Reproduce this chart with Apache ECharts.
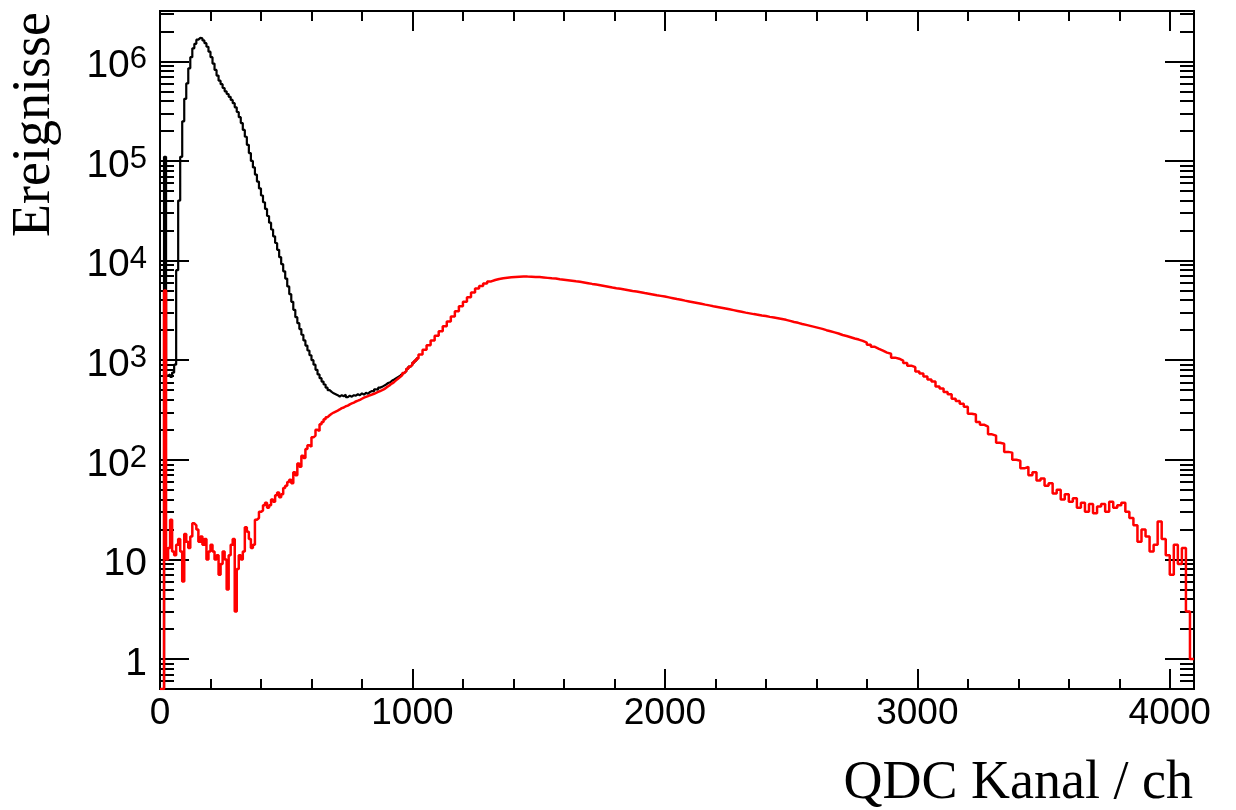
<!DOCTYPE html>
<html>
<head>
<meta charset="utf-8">
<script src="https://cdn.jsdelivr.net/npm/echarts@6/dist/echarts.min.js"></script>
<style>
  html, body { margin: 0; padding: 0; background: #fff; }
  #chart { width: 1236px; height: 810px; }
</style>
</head>
<body>
<div id="chart"></div>
<script>
// QDC spectrum, counts per bin
// channels 0..1024 in 8 ch bins, 1024..4096 in 16 ch bins
const fineWidth = 8
const coarseWidth = 16
const splitChannel = 1024
const lastChannel = 4096

// all events (black), 0..1024 ch; empty bins sit at the axis floor (0.5)
const blackFine = [
  0.5, 0.5, 110000, 700, 720, 680, 750, 900,
  8000, 40000, 110000, 250000, 420000, 600000, 850000, 1100000,
  1350000, 1500000, 1650000, 1720000, 1700000, 1620000, 1520000, 1400000,
  1250000, 1100000, 950000, 820000, 720000, 640000, 590000, 540000,
  500000, 470000, 440000, 410000, 380000, 345000, 310000, 275000,
  240000, 205000, 175000, 145000, 120000, 100000, 86000, 73000,
  62000, 53000, 45000, 38500, 33000, 28000, 24000, 20500,
  17500, 15000, 12800, 10800, 9200, 7800, 6600, 5500,
  4600, 3850, 3200, 2700, 2350, 2050, 1800, 1580,
  1400, 1250, 1120, 1000, 900, 800, 720, 660,
  610, 570, 530, 500, 480, 465, 455, 445,
  430, 445, 435, 450, 425, 440, 430, 445,
  440, 455, 445, 465, 450, 470, 460, 480,
  490, 485, 510, 505, 530, 540, 555, 570,
  590, 600, 625, 640, 660, 680, 700, 730,
  745, 780, 820, 860, 900, 945, 990, 1040
]

// selected events (red), 0..1024 ch
const redFine = [
  0.5, 0.5, 5000, 10, 13, 25, 12, 11,
  14, 16, 12, 6, 18, 15, 13, 17,
  23, 22, 20, 15, 17, 14, 16, 10,
  12, 14, 12, 10, 11, 7, 9, 12,
  10, 5, 11, 14, 16, 3, 8, 11,
  10, 12, 21, 19, 16, 13, 14, 25,
  26, 30, 31, 35, 37, 33, 35, 40,
  38, 44, 47, 42, 45, 52, 55, 60,
  63, 58, 75, 70, 92, 85, 110, 104,
  128, 140, 135, 168, 175, 200, 195, 228,
  240, 255, 268, 280, 290, 298, 305, 312,
  320, 330, 335, 345, 350, 360, 368, 375,
  385, 392, 400, 410, 420, 428, 436, 445,
  452, 460, 470, 480, 490, 500, 512, 530,
  548, 565, 585, 605, 630, 655, 680, 710,
  745, 780, 820, 860, 900, 945, 990, 1040
]

// selected events (red), 1024..4096 ch
const redCoarse = [
  1140, 1270, 1415, 1580, 1760, 1950, 2190, 2450,
  2750, 3090, 3470, 3850, 4270, 4790, 5250, 5560,
  5890, 6170, 6380, 6530, 6640, 6730, 6790, 6850,
  6890, 6920, 6900, 6890, 6850, 6820, 6760, 6700,
  6640, 6590, 6500, 6430, 6350, 6270, 6190, 6120,
  6030, 5930, 5830, 5740, 5650, 5560, 5470, 5370,
  5280, 5200, 5120, 5040, 4950, 4880, 4800, 4720,
  4650, 4570, 4490, 4420, 4350, 4270, 4190, 4110,
  4040, 3960, 3890, 3820, 3750, 3680, 3610, 3550,
  3480, 3420, 3360, 3300, 3240, 3180, 3120, 3060,
  3000, 2950, 2900, 2860, 2810, 2770, 2720, 2680,
  2640, 2590, 2540, 2480, 2420, 2370, 2310, 2260,
  2210, 2160, 2110, 2060, 2000, 1950, 1900, 1850,
  1790, 1750, 1700, 1650, 1610, 1560, 1500, 1430,
  1360, 1300, 1245, 1190, 1160, 1060, 1035, 990,
  935, 880, 850, 770, 735, 685, 640, 610,
  545, 520, 480, 455, 410, 390, 365, 340,
  290, 285, 240, 225, 215, 180, 175, 148,
  145, 120, 118, 100, 98, 82, 85, 70,
  75, 62, 65, 55, 58, 46, 50, 40,
  45, 38, 41, 33, 37, 30, 36, 29,
  34, 36, 30, 38, 33, 35, 37, 30,
  26, 22, 15, 20, 17, 12, 14, 24,
  16, 11, 7, 14, 9, 13, 3, 1
]

// axis ranges and tick positions
const yMin = 0.5
const yMax = 3.2e6
const yDecades = [0, 1, 2, 3, 4, 5, 6]
const xMajorStep = 1000
const xMinorStep = 200

function histPoints(start, width, values) {
  return values.map((v, i) => [start + i * width, v])
}

let redData = histPoints(0, fineWidth, redFine).concat(histPoints(splitChannel, coarseWidth, redCoarse))
redData.push([lastChannel, redCoarse[redCoarse.length - 1]])
let blackData = histPoints(0, fineWidth, blackFine)
blackData.push([splitChannel, blackFine[blackFine.length - 1]])

const logMin = Math.log10(yMin)
const logMax = Math.log10(yMax)
let yMinor = []
for (let d = -1; d <= 6; d++) {
  for (let k = 2; k <= 9; k++) {
    let v = Math.log10(k) + d
    if (v > logMin && v < logMax) yMinor.push(v)
  }
}

const tickColor = '#000'
const labelFont = 'Liberation Sans'

function xAxisDef(position, interval, len, labels) {
  return {
    type: 'value', position: position, min: 0, max: lastChannel, interval: interval,
    axisLine: { show: false, onZero: false },
    splitLine: { show: false },
    axisTick: { show: true, inside: true, length: len, lineStyle: { color: tickColor, width: 2 } },
    axisLabel: labels ? {
      show: true, margin: 6, color: '#000', fontFamily: labelFont, fontSize: 37,
      showMaxLabel: false,
      formatter: function (v) { return String(v) }
    } : { show: false }
  }
}

function yDecoAxis(position, values, len, labels) {
  return {
    type: 'value', position: position, min: logMin, max: logMax,
    axisLine: { show: false, onZero: false },
    splitLine: { show: false },
    axisTick: { show: true, inside: true, length: len, customValues: values, lineStyle: { color: tickColor, width: 2 } },
    axisLabel: labels ? {
      show: true, margin: 13, customValues: values, padding: [10, 0, 0, 0],
      formatter: function (v) {
        let d = Math.round(v)
        if (d === 0) return '{b|1}'
        if (d === 1) return '{b|10}'
        return '{b|10}{s|' + d + '}'
      },
      rich: {
        b: { fontFamily: labelFont, fontSize: 39, color: '#000', lineHeight: 44 },
        s: { fontFamily: labelFont, fontSize: 31, color: '#000', lineHeight: 30, verticalAlign: 'top' }
      }
    } : { show: false }
  }
}

let myChart = echarts.init(document.getElementById('chart'))
myChart.setOption({
  animation: false,
  backgroundColor: '#fff',
  grid: {
    left: 160, right: 42, top: 11, bottom: 121,
    show: true, borderColor: '#000', borderWidth: 2, backgroundColor: 'transparent'
  },
  xAxis: [
    xAxisDef('bottom', xMajorStep, 20, true),
    xAxisDef('bottom', xMinorStep, 10, false),
    xAxisDef('top', xMajorStep, 20, false),
    xAxisDef('top', xMinorStep, 10, false)
  ],
  yAxis: [
    { type: 'log', logBase: 10, min: yMin, max: yMax, show: false },
    yDecoAxis('left', yDecades, 29, true),
    yDecoAxis('left', yMinor, 14, false),
    yDecoAxis('right', yDecades, 29, false),
    yDecoAxis('right', yMinor, 14, false)
  ],
  graphic: [
    {
      type: 'text', x: 8, y: 12, rotation: Math.PI / 2,
      style: {
        text: 'Ereignisse', font: '54px "Liberation Serif"', fill: '#000',
        align: 'right', verticalAlign: 'top', textAlign: 'right', textVerticalAlign: 'top'
      }
    },
    {
      type: 'text', x: 1193, y: 757,
      style: {
        text: 'QDC Kanal / ch', font: '54px "Liberation Serif"', fill: '#000',
        align: 'right', verticalAlign: 'top', textAlign: 'right', textVerticalAlign: 'top'
      }
    }
  ],
  series: [
    {
      name: 'alle', type: 'line', step: 'end', xAxisIndex: 0, yAxisIndex: 0,
      data: blackData, showSymbol: false, symbol: 'none', clip: true,
      lineStyle: { color: '#000', width: 2.2 }, itemStyle: { color: '#000' }
    },
    {
      name: 'Auswahl', type: 'line', step: 'end', xAxisIndex: 0, yAxisIndex: 0,
      data: redData, showSymbol: false, symbol: 'none', clip: true,
      lineStyle: { color: '#ff0000', width: 2.5 }, itemStyle: { color: '#ff0000' }
    }
  ]
})
</script>
</body>
</html>
